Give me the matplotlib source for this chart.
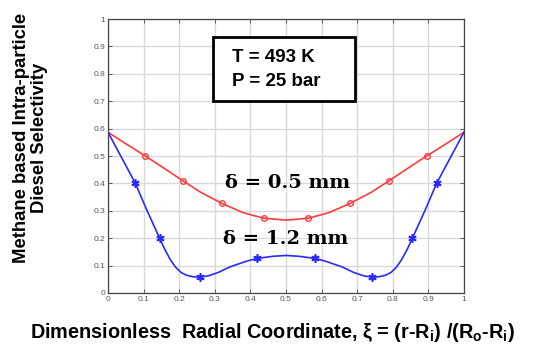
import numpy as np
import matplotlib
matplotlib.use("Agg")
import matplotlib.pyplot as plt
from matplotlib.patches import Rectangle

# ===================== 数据 =====================
# 曲线 δ = 0.5 mm（红）
red_x = [0, 0.05, 0.105, 0.15, 0.21, 0.26, 0.32, 0.38, 0.437, 0.5,
         0.563, 0.62, 0.68, 0.74, 0.79, 0.85, 0.895, 0.95, 1]
red_y = [0.587, 0.545, 0.50, 0.462, 0.41, 0.368, 0.327, 0.293, 0.273, 0.266,
         0.273, 0.293, 0.327, 0.368, 0.41, 0.462, 0.50, 0.545, 0.587]
red_mx = [0.105, 0.21, 0.32, 0.437, 0.563, 0.68, 0.79, 0.895]
red_my = [0.50, 0.41, 0.327, 0.273, 0.273, 0.327, 0.41, 0.50]

# 曲线 δ = 1.2 mm（蓝）
blue_x = [0, 0.04, 0.077, 0.11, 0.145, 0.16, 0.175, 0.19, 0.205, 0.22, 0.24,
          0.258, 0.28, 0.31, 0.342, 0.389, 0.418, 0.464, 0.5,
          0.536, 0.582, 0.611, 0.658, 0.69, 0.72, 0.742, 0.76, 0.78, 0.795,
          0.81, 0.825, 0.84, 0.855, 0.89, 0.923, 0.96, 1]
blue_y = [0.587, 0.49, 0.40, 0.30, 0.20, 0.158, 0.122, 0.094, 0.075, 0.065, 0.059,
          0.058, 0.062, 0.075, 0.095, 0.116, 0.126, 0.134, 0.137,
          0.134, 0.126, 0.116, 0.095, 0.075, 0.062, 0.058, 0.059, 0.065, 0.075,
          0.094, 0.122, 0.158, 0.20, 0.30, 0.40, 0.49, 0.587]
blue_mx = [0.077, 0.145, 0.258, 0.418, 0.582, 0.742, 0.855, 0.923]
blue_my = [0.40, 0.20, 0.06, 0.127, 0.127, 0.06, 0.20, 0.40]

ticks = np.round(np.arange(0, 1.01, 0.1), 1)
tick_labels = ["0", "0.1", "0.2", "0.3", "0.4", "0.5", "0.6", "0.7", "0.8", "0.9", "1"]

# ===================== 样式 =====================
plt.rcParams['font.family'] = ['Liberation Sans', 'DejaVu Sans']
plt.rcParams['mathtext.fontset'] = 'custom'
plt.rcParams['mathtext.rm'] = 'Liberation Sans:bold'
plt.rcParams['mathtext.it'] = 'Liberation Sans:bold'
plt.rcParams['mathtext.bf'] = 'Liberation Sans:bold'

fig = plt.figure(figsize=(5.49, 3.53), dpi=100)
ax = fig.add_axes([0.1967, 0.17, 0.6485, 0.776])

ax.plot(red_x, red_y, color="#ff3b3b", lw=1.2)
ax.plot(red_mx, red_my, ls="none", marker="o", ms=4, mfc="none",
        mec="#ff3b3b", mew=1.0)
ax.plot(blue_x, blue_y, color="#2a2aff", lw=1.2)
ax.plot(blue_mx, blue_my, ls="none", marker=(6, 2, 0), ms=6,
        mec="#2a2aff", mew=1.2)

ax.set_xlim(0, 1)
ax.set_ylim(0, 1)
ax.set_xticks(ticks)
ax.set_yticks(ticks)
ax.set_xticklabels(tick_labels)
ax.set_yticklabels(tick_labels)
ax.tick_params(direction="in", length=3, width=0.6, labelsize=6,
               labelcolor="#555555", color="#444444", right=True, top=True, pad=2)
ax.grid(True, color="#d9d9d9", lw=1.0)
ax.set_axisbelow(True)
for s in ax.spines.values():
    s.set_color("#444444")
    s.set_linewidth(0.9)

# 注释框与文字
ax.add_patch(Rectangle((0.295, 0.70), 0.399, 0.234, transform=ax.transAxes,
                       fc="white", ec="black", lw=2, zorder=5))
ax.text(0.347, 0.858, "T = 493 K", transform=ax.transAxes, ha="left", va="center",
        fontsize=13.5, fontweight="bold", zorder=6)
ax.text(0.347, 0.773, "P = 25 bar", transform=ax.transAxes, ha="left", va="center",
        fontsize=13.5, fontweight="bold", zorder=6)

ax.text(0.505, 0.40, "δ = 0.5 mm", ha="center", va="center", fontsize=14,
        fontweight="bold", family=["DejaVu Serif"])
ax.text(0.50, 0.197, "δ = 1.2 mm", ha="center", va="center", fontsize=14,
        fontweight="bold", family=["DejaVu Serif"])

fig.text(0.497, 0.057, r"Dimensionless  Radial Coordinate, ξ = (r-R$_i$) /(R$_o$-R$_i$)",
         ha="center", va="center", fontsize=14.3, fontweight="bold")
fig.text(0.055, 0.61, "Methane based Intra-particle\nDiesel Selectivity",
         ha="center", va="center", rotation=90, fontsize=13.3, fontweight="bold",
         linespacing=1.1)

fig.savefig("out.png", dpi=100)
